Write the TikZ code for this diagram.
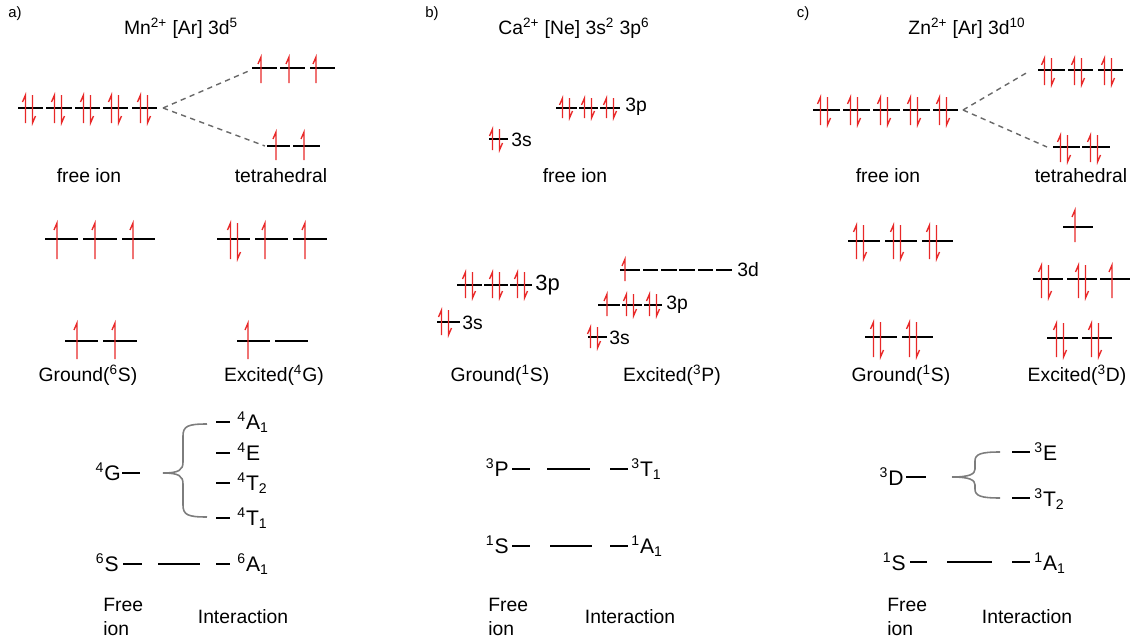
\documentclass[tikz,border=0pt]{standalone}
\usepackage{fontspec}
\setmainfont{Liberation Sans}
\definecolor{spinred}{RGB}{232,40,40}
\definecolor{dashgray}{RGB}{105,105,105}
\definecolor{bracegray}{RGB}{125,125,125}
\newcommand\orbl[3]{\draw[orb] (#1,#3) -- (#2,#3);}
\newcommand\spup[3]{\draw[spin] (#1,#3) -- (#1,#2) -- ++(-3,7);}
\newcommand\spdn[3]{\draw[spin] (#1,#2) -- (#1,#3) -- ++(3,-7);}
\newcommand\sppair[3]{\spup{#1-3.5}{#2}{#3}\spdn{#1+3.5}{#2}{#3}}
\newcommand\lvl[3]{\draw[thinlvl] (#1,#3) -- (#2,#3);}
\tikzset{
  orb/.style={line width=1.4pt, black},
  spin/.style={line width=0.75pt, spinred, line join=miter},
  thinlvl/.style={line width=0.8pt, black},
  split/.style={line width=0.8pt, dashgray, dash pattern=on 3pt off 2.5pt},
  brace/.style={line width=0.9pt, bracegray},
  lbl/.style={inner sep=0pt, font=\fontsize{11}{13.6}\selectfont},
  big/.style={inner sep=0pt, font=\fontsize{12.5}{14}\selectfont},
  small/.style={inner sep=0pt, font=\fontsize{8.5}{10}\selectfont},
  term/.style={inner sep=0pt, font=\fontsize{12}{14}\selectfont},
  twoline/.style={inner sep=0pt, align=left, font=\fontsize{11}{13.6}\selectfont},
}
\begin{document}
\begin{tikzpicture}[x=0.02cm, y=-0.02cm]
\useasboundingbox (0,0) rectangle (1137,639);

%================ panel a ================
\node[small] (pa) at (15,14) {a)};
\node[lbl] (ta) at (181,28) {Mn\textsuperscript{2+} [Ar] 3d\textsuperscript{5}};
% free ion
\orbl{18}{43}{108}\orbl{46}{72}{108}\orbl{75}{100}{108}\orbl{103}{128}{108}\orbl{132}{157}{108}
\sppair{29}{95}{123}\sppair{58}{95}{123}\sppair{87}{95}{123}\sppair{115}{95}{123}\sppair{144}{95}{123}
% tetrahedral
\orbl{252}{277}{68}\orbl{280}{305}{68}\orbl{310}{335}{68}
\spup{261}{57}{83}\spup{289}{57}{83}\spup{316}{57}{83}
\orbl{267}{290}{146}\orbl{293}{320}{146}
\spup{276}{132}{160}\spup{304}{132}{160}
\coordinate (a0) at (163,108);
\coordinate (a1) at (251,70);
\coordinate (a2) at (265,146);
\draw[split] (a0) -- (a1);
\draw[split] (a0) -- (a2);
\node[lbl] (fa) at (89,176) {free ion};
\node[lbl] (tha) at (281,176) {tetrahedral};
% ground
\orbl{45}{78}{239}\orbl{83}{117}{239}\orbl{122}{155}{239}
\spup{57}{223}{259}\spup{95}{223}{259}\spup{133}{223}{259}
\orbl{65}{98}{341}\orbl{103}{137}{341}
\spup{77}{323}{359}\spup{115}{323}{359}
\node[lbl] (ga) at (88,375) {Ground(\textsuperscript{6}S)};
% excited
\orbl{217}{250}{239}\orbl{255}{288}{239}\orbl{293}{327}{239}
\sppair{234}{223}{259}\spup{265}{223}{259}\spup{305}{223}{259}
\orbl{237}{270}{341}\orbl{275}{308}{341}
\spup{248}{323}{359}
\node[lbl] (ea) at (274,375) {Excited(\textsuperscript{4}G)};
% terms
\node[term, anchor=base east] (a4G) at (121,480) {\textsuperscript{4}G};
\lvl{122}{140}{473}
\draw[brace] (207,424) .. controls (188,424) and (183,426) .. (183,436) -- (183,462) .. controls (183,470) and (179,473) .. (163,473);
\draw[brace] (207,517) .. controls (188,517) and (183,515) .. (183,505) -- (183,484) .. controls (183,476) and (179,473) .. (163,473);
\lvl{216}{230}{422}\lvl{216}{230}{453}\lvl{216}{230}{483}\lvl{216}{230}{518}
\node[term, anchor=base west] (aA1) at (237,429) {\textsuperscript{4}A\textsubscript{1}};
\node[term, anchor=base west] (aE) at (237,460) {\textsuperscript{4}E};
\node[term, anchor=base west] (aT2) at (237,490) {\textsuperscript{4}T\textsubscript{2}};
\node[term, anchor=base west] (aT1) at (237,525) {\textsuperscript{4}T\textsubscript{1}};
\node[term, anchor=base east] (a6S) at (119,571) {\textsuperscript{6}S};
\lvl{123}{142}{564}\lvl{158}{200}{564}\lvl{216}{230}{564}
\node[term, anchor=base west] (a6A1) at (237,571) {\textsuperscript{6}A\textsubscript{1}};
\node[twoline, anchor=west] (fia) at (103,617) {Free\\ion};
\node[lbl] (ia) at (243,617) {Interaction};

%================ panel b ================
\node[small] (pb) at (432,14) {b)};
\node[lbl] (tb) at (574,28) {Ca\textsuperscript{2+} [Ne] 3s\textsuperscript{2} 3p\textsuperscript{6}};
\orbl{556}{577}{108}\orbl{579}{598}{108}\orbl{600}{620}{108}
\sppair{566}{98}{118}\sppair{588}{98}{118}\sppair{610}{98}{118}
\node[lbl, anchor=west] (b3p) at (625,107) {3p};
\orbl{489}{508}{139}
\sppair{496}{129}{150}
\node[lbl, anchor=west] (b3s) at (511,140) {3s};
\node[lbl] (fb) at (575,176) {free ion};
% ground
\orbl{457}{482}{285}\orbl{484}{508}{285}\orbl{510}{532}{285}
\sppair{469}{272}{298}\sppair{496}{272}{298}\sppair{521}{272}{298}
\node[big, anchor=west] (bg3p) at (535,285) {3p};
\orbl{437}{460}{322}
\sppair{445}{310}{335}
\node[lbl, anchor=west] (bg3s) at (462,323) {3s};
\node[lbl] (gb) at (500,375) {Ground(\textsuperscript{1}S)};
% excited
\orbl{620}{640}{270}\orbl{643}{658}{270}\orbl{661}{677}{270}\orbl{679}{695}{270}\orbl{698}{713}{270}\orbl{716}{732}{270}
\spup{625}{259}{281}
\node[lbl, anchor=west] (be3d) at (737,270) {3d};
\orbl{598}{620}{305}\orbl{622}{642}{305}\orbl{644}{662}{305}
\spup{607}{294}{316}\sppair{630}{294}{316}\sppair{653}{294}{316}
\node[lbl, anchor=west] (be3p) at (666,305) {3p};
\orbl{588}{607}{337}
\sppair{594}{327}{348}
\node[lbl, anchor=west] (be3s) at (609,338) {3s};
\node[lbl] (eb) at (672,375) {Excited(\textsuperscript{3}P)};
% terms
\node[term, anchor=base east] (b3P) at (509,476) {\textsuperscript{3}P};
\lvl{512}{530}{469}\lvl{547}{590}{469}\lvl{610}{628}{469}
\node[term, anchor=base west] (b3T1) at (631,476) {\textsuperscript{3}T\textsubscript{1}};
\node[term, anchor=base east] (b1S) at (509,553) {\textsuperscript{1}S};
\lvl{512}{530}{546}\lvl{550}{592}{546}\lvl{610}{628}{546}
\node[term, anchor=base west] (b1A1) at (631,553) {\textsuperscript{1}A\textsubscript{1}};
\node[twoline, anchor=west] (fib) at (488,617) {Free\\ion};
\node[lbl] (ib) at (630,617) {Interaction};

%================ panel c ================
\node[small] (pc) at (803,14) {c)};
\node[lbl] (tc) at (967,28) {Zn\textsuperscript{2+} [Ar] 3d\textsuperscript{10}};
\orbl{813}{840}{110}\orbl{843}{870}{110}\orbl{873}{900}{110}\orbl{903}{930}{110}\orbl{933}{958}{110}
\sppair{824}{97}{125}\sppair{854}{97}{125}\sppair{884}{97}{125}\sppair{914}{97}{125}\sppair{943}{97}{125}
\coordinate (c0) at (963,110);
\coordinate (c1) at (1028,72);
\coordinate (c2) at (1047,147);
\draw[split] (c0) -- (c1);
\draw[split] (c0) -- (c2);
\orbl{1038}{1065}{70}\orbl{1068}{1093}{70}\orbl{1098}{1123}{70}
\sppair{1048}{58}{85}\sppair{1078}{58}{85}\sppair{1108}{58}{85}
\orbl{1053}{1080}{147}\orbl{1082}{1110}{147}
\sppair{1064}{135}{162}\sppair{1094}{135}{162}
\node[lbl] (fc) at (888,176) {free ion};
\node[lbl] (thc) at (1081,176) {tetrahedral};
% ground
\orbl{848}{880}{241}\orbl{885}{917}{241}\orbl{922}{953}{241}
\sppair{860}{225}{259}\sppair{897}{225}{259}\sppair{933}{225}{259}
\orbl{865}{897}{337}\orbl{902}{933}{337}
\sppair{877}{322}{357}\sppair{913}{322}{357}
\node[lbl] (gc) at (901,375) {Ground(\textsuperscript{1}S)};
% excited
\orbl{1063}{1093}{227}
\spup{1075}{210}{242}
\orbl{1033}{1063}{279}\orbl{1067}{1097}{279}\orbl{1100}{1130}{279}
\sppair{1045}{265}{298}\sppair{1082}{265}{298}\spup{1112}{265}{298}
\orbl{1047}{1078}{338}\orbl{1082}{1112}{338}
\sppair{1060}{323}{357}\sppair{1095}{323}{357}
\node[lbl] (ec) at (1077,375) {Excited(\textsuperscript{3}D)};
% terms
\node[term, anchor=base east] (c3D) at (904,485) {\textsuperscript{3}D};
\lvl{906}{926}{477}
\draw[brace] (1000,452) .. controls (981,452) and (975,454) .. (975,461) -- (975,469) .. controls (975,474) and (970,477) .. (952,477);
\draw[brace] (1000,498) .. controls (981,498) and (975,496) .. (975,489) -- (975,485) .. controls (975,480) and (970,477) .. (952,477);
\lvl{1012}{1030}{452}\lvl{1012}{1030}{498}
\node[term, anchor=base west] (c3E) at (1034,460) {\textsuperscript{3}E};
\node[term, anchor=base west] (c3T2) at (1034,506) {\textsuperscript{3}T\textsubscript{2}};
\node[term, anchor=base east] (c1S) at (906,570) {\textsuperscript{1}S};
\lvl{910}{927}{562}\lvl{947}{992}{562}\lvl{1012}{1030}{562}
\node[term, anchor=base west] (c1A1) at (1034,570) {\textsuperscript{1}A\textsubscript{1}};
\node[twoline, anchor=west] (fic) at (887,617) {Free\\ion};
\node[lbl] (ic) at (1027,617) {Interaction};
\end{tikzpicture}
\end{document}
